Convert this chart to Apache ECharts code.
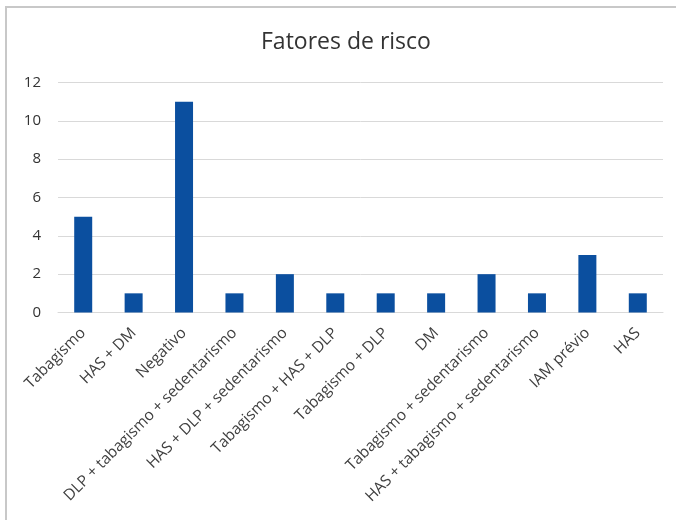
<!DOCTYPE html>
<html>
<head>
<meta charset="utf-8">
<script src="https://cdn.jsdelivr.net/npm/echarts@6/dist/echarts.min.js"></script>
<style>
  html, body { margin: 0; padding: 0; background: #fff; }
  #chart { width: 676px; height: 520px; }
</style>
</head>
<body>
<div id="chart"></div>
<script>
// Risk factor counts
const categories = [
  'Tabagismo',
  'HAS + DM',
  'Negativo',
  'DLP + tabagismo + sedentarismo',
  'HAS + DLP + sedentarismo',
  'Tabagismo + HAS + DLP',
  'Tabagismo + DLP',
  'DM',
  'Tabagismo + sedentarismo',
  'HAS + tabagismo + sedentarismo',
  'IAM prévio',
  'HAS'
];
const counts = [5, 1, 11, 1, 2, 1, 1, 1, 2, 1, 3, 1];
const yTicks = [0, 2, 4, 6, 8, 10, 12];

const chart = echarts.init(document.getElementById('chart'), null, { renderer: 'canvas' });
const font = '"Open Sans", "Liberation Sans", sans-serif';

chart.setOption({
  animation: false,
  backgroundColor: '#ffffff',
  title: {
    text: 'Fatores de risco',
    left: 256,
    top: 26,
    textStyle: { fontFamily: font, fontSize: 23, fontWeight: 'normal', color: '#333333' }
  },
  graphic: [{
    type: 'polyline',
    shape: { points: [[6, 520], [6, 7], [676, 7]] },
    style: { stroke: '#c8c8c8', lineWidth: 2, fill: null }
  }],
  grid: { left: 58, right: 13, top: 82.5, bottom: 207.5, containLabel: false },
  xAxis: {
    type: 'category',
    data: categories,
    axisLine: { lineStyle: { color: '#d9d9d9', width: 1 } },
    axisTick: { show: false },
    axisLabel: {
      rotate: 45,
      interval: 0,
      margin: 18,
      fontFamily: font,
      fontSize: 15.5,
      color: '#404040'
    }
  },
  yAxis: {
    type: 'value',
    min: yTicks[0],
    max: yTicks[yTicks.length - 1],
    interval: 2,
    axisLine: { show: false },
    axisTick: { show: false },
    splitLine: { lineStyle: { color: '#d9d9d9', width: 1 } },
    axisLabel: { fontFamily: font, fontSize: 15, color: '#333333', margin: 17 }
  },
  series: [{
    type: 'bar',
    data: counts,
    barWidth: 18,
    itemStyle: { color: '#0b4f9f' }
  }]
});
</script>
</body>
</html>
